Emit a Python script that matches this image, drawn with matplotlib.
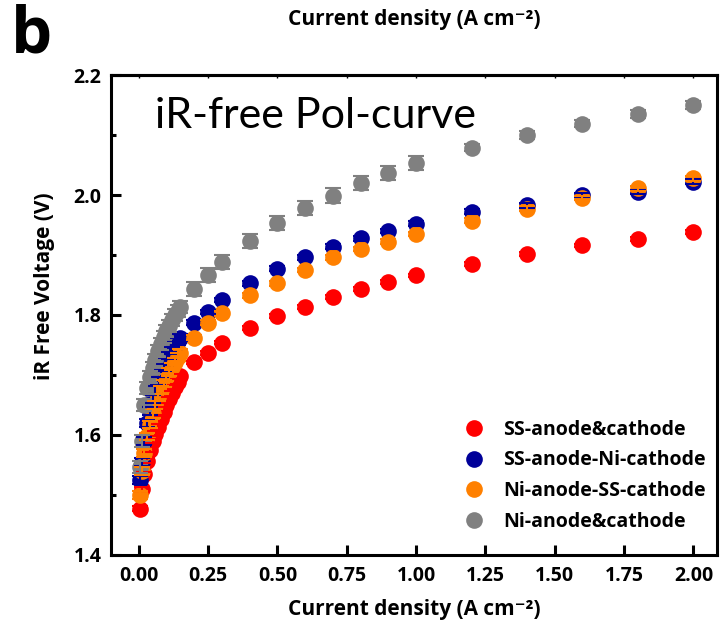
import matplotlib
matplotlib.use('Agg')
import matplotlib.pyplot as plt
from matplotlib.lines import Line2D
from matplotlib.ticker import MultipleLocator, FormatStrFormatter

# ---- data ----
current = [0.005, 0.01, 0.02, 0.03, 0.04, 0.05, 0.06, 0.07, 0.08, 0.09, 0.10,
           0.11, 0.12, 0.13, 0.14, 0.15, 0.20, 0.25, 0.30, 0.40, 0.50, 0.60,
           0.70, 0.80, 0.90, 1.00, 1.20, 1.40, 1.60, 1.80, 2.00]

labels = ["SS-anode&cathode", "SS-anode-Ni-cathode",
          "Ni-anode-SS-cathode", "Ni-anode&cathode"]
colors = ["#ff0000", "#000099", "#ff8000", "#808080"]

v_ss_ss = [1.477, 1.510, 1.535, 1.557, 1.575, 1.590, 1.602, 1.614, 1.627, 1.638, 1.650,
           1.660, 1.670, 1.680, 1.689, 1.698, 1.721, 1.737, 1.754, 1.778, 1.798, 1.813,
           1.830, 1.843, 1.855, 1.866, 1.885, 1.902, 1.916, 1.927, 1.938]
v_ss_ni = [1.525, 1.555, 1.590, 1.620, 1.640, 1.660, 1.675, 1.690, 1.703, 1.713, 1.723,
           1.732, 1.741, 1.749, 1.756, 1.762, 1.787, 1.805, 1.825, 1.853, 1.877, 1.896,
           1.914, 1.928, 1.940, 1.952, 1.972, 1.983, 2.000, 2.005, 2.022]
v_ni_ss = [1.500, 1.540, 1.570, 1.598, 1.617, 1.635, 1.650, 1.663, 1.675, 1.686, 1.696,
           1.705, 1.714, 1.722, 1.730, 1.737, 1.762, 1.787, 1.803, 1.833, 1.853, 1.875,
           1.896, 1.910, 1.922, 1.935, 1.957, 1.977, 1.995, 2.011, 2.028]
v_ni_ni = [1.547, 1.590, 1.650, 1.678, 1.697, 1.712, 1.725, 1.740, 1.752, 1.763, 1.773,
           1.782, 1.792, 1.800, 1.807, 1.813, 1.843, 1.867, 1.888, 1.923, 1.953, 1.978,
           1.999, 2.020, 2.037, 2.053, 2.079, 2.100, 2.119, 2.135, 2.150]

e_ss_ss = [0.004] * 16 + [0.003] * 15
e_ss_ni = [0.006] * 16 + [0.004] * 15
e_ni_ss = [0.006] * 16 + [0.004] * 15
e_ni_ni = [0.010] * 16 + [0.012] * 10 + [0.006] * 5

voltages = [v_ss_ss, v_ss_ni, v_ni_ss, v_ni_ni]
errors = [e_ss_ss, e_ss_ni, e_ni_ss, e_ni_ni]

XLABEL = 'Current density (A cm\u207b\u00b2)'

# ---- figure ----
plt.rcParams['font.family'] = ['Open Sans', 'DejaVu Sans']
fig = plt.figure(figsize=(7.2, 6.25), dpi=100)
ax = fig.add_axes([111 / 720, 1 - 555 / 625, (717 - 111) / 720, 480 / 625])

for v, c in zip(voltages, colors):
    ax.plot(current, v, 'o', ms=12, color=c, mec='none', zorder=2)
for v, e, c in zip(voltages, errors, colors):
    ax.errorbar(current, v, yerr=e, fmt='none', ecolor=c, elinewidth=1.5,
                capsize=6, capthick=1.5, zorder=3)

ax.set_xlim(-0.1, 2.085)
ax.set_ylim(1.4, 2.2)
ax.xaxis.set_major_locator(MultipleLocator(0.25))
ax.xaxis.set_major_formatter(FormatStrFormatter('%.2f'))
ax.yaxis.set_major_locator(MultipleLocator(0.2))
ax.yaxis.set_minor_locator(MultipleLocator(0.1))
ax.yaxis.set_major_formatter(FormatStrFormatter('%.1f'))

for s in ax.spines.values():
    s.set_linewidth(2.2)
ax.tick_params(axis='both', which='major', direction='in', length=7, width=2.2,
               labelsize=14)
ax.tick_params(axis='y', which='minor', direction='in', length=3.5, width=2.2)
ax.tick_params(axis='x', pad=8)
ax.tick_params(axis='y', pad=7)
for lab in ax.get_xticklabels() + ax.get_yticklabels():
    lab.set_fontweight('bold')

ax.set_xlabel(XLABEL, fontsize=15, fontweight='bold', labelpad=9)
ax.set_ylabel('iR Free Voltage (V)', fontsize=15, fontweight='bold')
ax.yaxis.set_label_coords(-0.093, 0.56)

sec = ax.secondary_xaxis('top')
sec.xaxis.set_major_locator(MultipleLocator(0.25))
sec.tick_params(direction='in', length=2, width=1, labeltop=False)
sec.spines['top'].set_linewidth(2.2)
sec.set_xlabel(XLABEL, fontsize=15, fontweight='bold', labelpad=36)

ax.text(0.073, 0.89, 'iR-free Pol-curve', transform=ax.transAxes,
        fontsize=31, va='baseline', ha='left', family=['Lato', 'DejaVu Sans'])
fig.text(0.015, 0.995, 'b', fontsize=47, fontweight='bold', va='top', ha='left')

handles = [Line2D([], [], ls='none', marker='o', ms=12, color=c, mec='none')
           for c in colors]
leg = ax.legend(handles, labels, loc='lower right', bbox_to_anchor=(1.011, 0.012),
                frameon=False, fontsize=14, handletextpad=1.0, labelspacing=0.55,
                handlelength=1.0)
for t in leg.get_texts():
    t.set_fontweight('bold')

fig.savefig('out.png', dpi=100)
